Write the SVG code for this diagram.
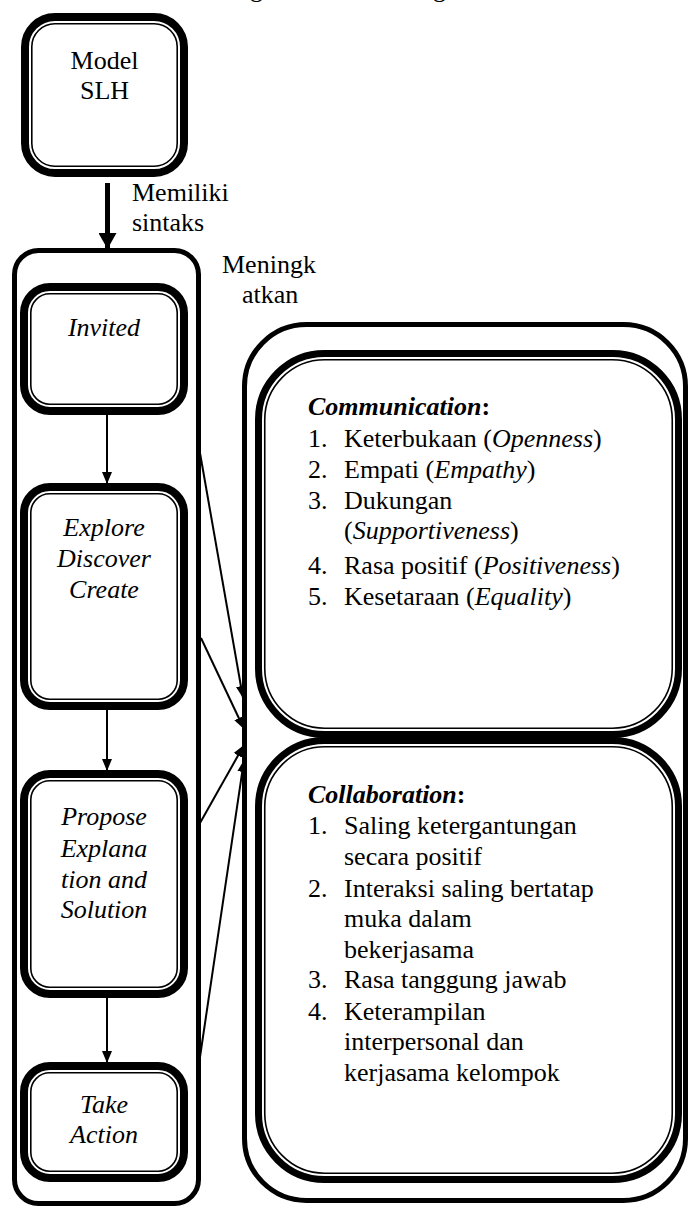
<svg xmlns="http://www.w3.org/2000/svg" width="688" height="1216" viewBox="0 0 688 1216">
<style>
  .thick { fill: #fff; stroke: #000; stroke-width: 8; }
  .thick7 { fill: #fff; stroke: #000; stroke-width: 7; }
  .thin { fill: none; stroke: #000; stroke-width: 1.6; }
  .frame { fill: none; stroke: #000; stroke-width: 5; }
  text { font-family: 'Liberation Serif', 'Times New Roman', serif; font-size: 26px; fill: #000; }
  .c { text-anchor: middle; }
  .i { font-style: italic; }
  .b { font-weight: bold; }
  .conn { stroke: #000; stroke-width: 2; fill: none; }
</style>
<defs>
  <marker id="ah" viewBox="0 0 12 10" refX="12" refY="5" markerWidth="12" markerHeight="10" markerUnits="userSpaceOnUse" orient="auto">
    <path d="M0,0 L12,5 L0,10 Z" fill="#000"/>
  </marker>
  <marker id="ahBig" viewBox="0 0 16 18" refX="16" refY="9" markerWidth="16" markerHeight="18" markerUnits="userSpaceOnUse" orient="auto">
    <path d="M0,0 L16,9 L0,18 Z" fill="#000"/>
  </marker>
</defs>
<rect x="0" y="0" width="688" height="1216" fill="#fff"/>

<g id="caption-fragment">
  <text x="250" y="-3">g</text>
  <text x="433" y="-3">g</text>
</g>

<g id="model-slh">
  <rect class="thick" x="25" y="17" width="159" height="156" rx="30"/>
  <rect class="thin" x="31.8" y="23.8" width="145.4" height="142.4" rx="23"/>
  <text class="c" x="104.5" y="69">Model</text>
  <text class="c" x="104.5" y="99">SLH</text>
</g>

<g id="sintaks-container">
  <rect class="frame" x="14.5" y="250.5" width="184" height="953" rx="24"/>
</g>

<g id="invited">
  <rect class="thick" x="24" y="287" width="160" height="124" rx="26"/>
  <rect class="thin" x="30.8" y="293.8" width="146.4" height="110.4" rx="19"/>
  <text class="c i" x="104" y="336">Invited</text>
</g>

<g id="explore">
  <rect class="thick" x="24" y="487" width="160" height="219" rx="26"/>
  <rect class="thin" x="30.8" y="493.8" width="146.4" height="205.4" rx="19"/>
  <text class="c i" x="104" y="536">Explore</text>
  <text class="c i" x="104" y="567">Discover</text>
  <text class="c i" x="104" y="598">Create</text>
</g>

<g id="propose">
  <rect class="thick" x="24" y="774" width="160" height="220" rx="26"/>
  <rect class="thin" x="30.8" y="780.8" width="146.4" height="206.4" rx="19"/>
  <text class="c i" x="104" y="825">Propose</text>
  <text class="c i" x="104" y="857">Explana</text>
  <text class="c i" x="104" y="888">tion and</text>
  <text class="c i" x="104" y="918">Solution</text>
</g>

<g id="take-action">
  <rect class="thick" x="24" y="1066" width="160" height="112" rx="26"/>
  <rect class="thin" x="30.8" y="1072.8" width="146.4" height="98.4" rx="19"/>
  <text class="c i" x="104" y="1113">Take</text>
  <text class="c i" x="104" y="1143">Action</text>
</g>

<g id="outcomes-container">
  <rect class="frame" x="244.5" y="324.5" width="441" height="876" rx="62"/>
</g>

<g id="communication">
  <rect class="thick7" x="258.5" y="353.5" width="420" height="381" rx="66"/>
  <rect class="thin" x="264.75" y="359.75" width="407.5" height="368.5" rx="60"/>
  <text x="308" y="415"><tspan class="b i">Communication</tspan><tspan class="b">:</tspan></text>
  <text x="308" y="447">1.</text>
  <text x="344" y="447">Keterbukaan (<tspan class="i">Openness</tspan>)</text>
  <text x="308" y="478">2.</text>
  <text x="344" y="478">Empati (<tspan class="i">Empathy</tspan>)</text>
  <text x="308" y="509">3.</text>
  <text x="344" y="509">Dukungan</text>
  <text x="344" y="539">(<tspan class="i">Supportiveness</tspan>)</text>
  <text x="308" y="574">4.</text>
  <text x="344" y="574">Rasa positif (<tspan class="i">Positiveness</tspan>)</text>
  <text x="308" y="605">5.</text>
  <text x="344" y="605">Kesetaraan (<tspan class="i">Equality</tspan>)</text>
</g>

<g id="collaboration">
  <rect class="thick7" x="258.5" y="740.5" width="420" height="439" rx="66"/>
  <rect class="thin" x="264.75" y="746.75" width="407.5" height="426.5" rx="60"/>
  <text x="308" y="803"><tspan class="b i">Collaboration</tspan><tspan class="b">:</tspan></text>
  <text x="308" y="834">1.</text>
  <text x="344" y="834">Saling ketergantungan</text>
  <text x="344" y="865">secara positif</text>
  <text x="308" y="897">2.</text>
  <text x="344" y="897">Interaksi saling bertatap</text>
  <text x="344" y="927">muka dalam</text>
  <text x="344" y="958">bekerjasama</text>
  <text x="308" y="988">3.</text>
  <text x="344" y="988">Rasa tanggung jawab</text>
  <text x="308" y="1020">4.</text>
  <text x="344" y="1020">Keterampilan</text>
  <text x="344" y="1050">interpersonal dan</text>
  <text x="344" y="1081">kerjasama kelompok</text>
</g>

<g id="connectors">
  <line x1="107.5" y1="183" x2="107.5" y2="249" stroke="#000" stroke-width="5" marker-end="url(#ahBig)"/>
  <line class="conn" x1="107" y1="415" x2="107" y2="484" marker-end="url(#ah)"/>
  <line class="conn" x1="107" y1="710" x2="107" y2="771" marker-end="url(#ah)"/>
  <line class="conn" x1="107" y1="998" x2="107" y2="1063" marker-end="url(#ah)"/>
  <line class="conn" x1="200" y1="453" x2="243" y2="698" marker-end="url(#ah)"/>
  <line class="conn" x1="201" y1="638" x2="244" y2="729" marker-end="url(#ah)"/>
  <line class="conn" x1="200" y1="823" x2="244" y2="745" marker-end="url(#ah)"/>
  <line class="conn" x1="200" y1="1057" x2="244" y2="760" marker-end="url(#ah)"/>
</g>

<g id="labels">
  <text x="132" y="201">Memiliki</text>
  <text x="132" y="231">sintaks</text>
  <text x="222" y="273">Meningk</text>
  <text x="242" y="303">atkan</text>
</g>
</svg>
